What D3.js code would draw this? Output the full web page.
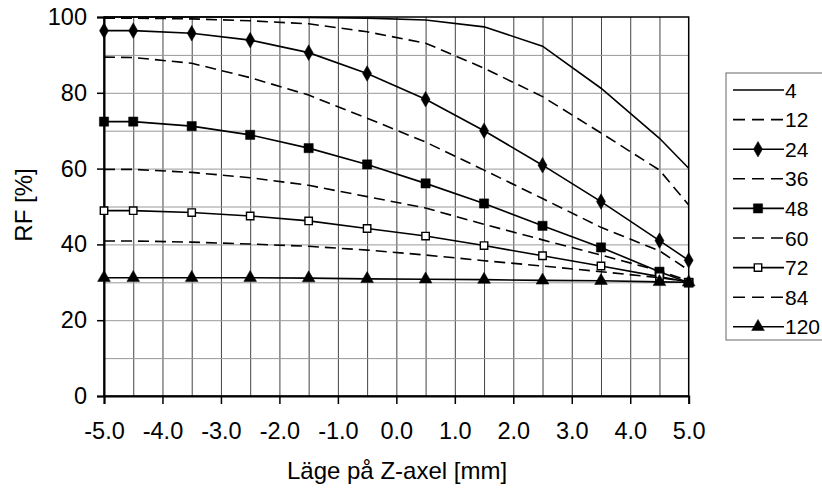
<!DOCTYPE html>
<html>
<head>
<meta charset="utf-8">
<script src="https://cdn.jsdelivr.net/npm/d3@7"></script>
<style>
  body { margin: 0; background: #fff; }
  svg { font-family: Arial, "Liberation Sans", sans-serif; }
  .tick text { font-size: 23.5px; fill: #000; }
</style>
</head>
<body>
<div class="chart-wrapper"></div>
<script>
// positions on the Z axis (mm)
const zPos = [-5, -4.5, -3.5, -2.5, -1.5, -0.5, 0.5, 1.5, 2.5, 3.5, 4.5, 5]

const seriesNames = ['4', '12', '24', '36', '48', '60', '72', '84', '120']

const rf4   = [100, 100, 100, 100, 99.9, 99.7, 99.2, 97.4, 92.3, 81.2, 68, 60.1]
const rf12  = [99.7, 99.7, 99.5, 99.0, 98.2, 96.1, 93.1, 86.5, 79.0, 69.4, 59.6, 50.4]
const rf24  = [96.4, 96.4, 95.7, 93.9, 90.6, 85.1, 78.3, 70.0, 60.9, 51.3, 41.0, 35.8]
const rf36  = [89.4, 89.3, 87.8, 84.0, 79.4, 73.3, 67.0, 59.6, 52.1, 44.5, 38.3, 33.2]
const rf48  = [72.4, 72.4, 71.2, 68.9, 65.4, 61.1, 56.1, 50.8, 44.9, 39.2, 32.8, 29.9]
const rf60  = [59.8, 59.8, 59.0, 57.6, 55.6, 52.6, 49.6, 45.3, 41.2, 37.2, 33.0, 30.4]
const rf72  = [48.9, 48.9, 48.4, 47.5, 46.2, 44.2, 42.2, 39.7, 37.0, 34.3, 31.5, 30.0]
const rf84  = [40.9, 40.9, 40.6, 40.1, 39.5, 38.5, 37.2, 35.7, 34.3, 32.8, 31.2, 30.2]
const rf120 = [31.2, 31.2, 31.2, 31.2, 31.1, 30.9, 30.8, 30.7, 30.5, 30.4, 30.1, 30.0]

const xTicks = [-5, -4, -3, -2, -1, 0, 1, 2, 3, 4, 5]
const yTicks = [0, 20, 40, 60, 80, 100]

const allValues = [rf4, rf12, rf24, rf36, rf48, rf60, rf72, rf84, rf120]

// style per series: dashed or solid, marker type
const styles = {
  '4':   { dash: null, marker: null },
  '12':  { dash: '11,6', marker: null },
  '24':  { dash: null, marker: 'diamond' },
  '36':  { dash: '11,6', marker: null },
  '48':  { dash: null, marker: 'square' },
  '60':  { dash: '11,6', marker: null },
  '72':  { dash: null, marker: 'open' },
  '84':  { dash: '11,6', marker: null },
  '120': { dash: null, marker: 'triangle' }
}

let width = 822, height = 489
let margin = { left: 104, right: 822 - 688.7, top: 17, bottom: 489 - 396 }

let svg = d3.select('.chart-wrapper').append('svg')
.attr('width', width)
.attr('height', height)

let x = d3.scaleLinear().domain([-5, 5]).range([margin.left, width - margin.right])
let y = d3.scaleLinear().domain([0, 100]).range([height - margin.bottom, margin.top])

// grid
svg.append('g')
.attr('transform', 'translate(0,' + y(0) + ')')
.call(d3.axisBottom(x).tickValues(d3.range(-4.5, 5, 0.5)).tickSize(-(y(0) - y(100))).tickFormat(''))
.call(g => g.select('.domain').remove())
.call(g => g.selectAll('line').attr('stroke', '#444').attr('stroke-width', 1))

svg.append('g')
.attr('transform', 'translate(' + x(-5) + ',0)')
.call(d3.axisLeft(y).tickValues(d3.range(10, 100, 10)).tickSize(-(x(5) - x(-5))).tickFormat(''))
.call(g => g.select('.domain').remove())
.call(g => g.selectAll('line').attr('stroke', '#999').attr('stroke-width', 1))

// frame
svg.append('rect')
.attr('x', x(-5)).attr('y', y(100))
.attr('width', x(5) - x(-5)).attr('height', y(0) - y(100))
.attr('fill', 'none').attr('stroke', '#000').attr('stroke-width', 1.5)

let fmtX = d => d3.format('.1f')(d).replace('\u2212', '-')

// axes
let xAxis = svg.append('g')
.attr('transform', 'translate(0,' + y(0) + ')')
.call(d3.axisBottom(x).tickValues(xTicks).tickSize(8).tickPadding(18).tickFormat(fmtX))
xAxis.select('.domain').attr('stroke-width', 2)
xAxis.selectAll('line').attr('stroke-width', 1.5)

let yAxis = svg.append('g')
.attr('transform', 'translate(' + x(-5) + ',0)')
.call(d3.axisLeft(y).tickValues(yTicks).tickSize(7).tickPadding(10).tickFormat(d3.format('d')))
yAxis.select('.domain').attr('stroke-width', 2)
yAxis.selectAll('line').attr('stroke-width', 1.5)

// axis titles
svg.append('text')
.attr('x', 397).attr('y', 479)
.attr('text-anchor', 'middle')
.style('font-size', '24px')
.text('Läge på Z-axel [mm]')

svg.append('text')
.attr('transform', 'translate(32,205) rotate(-90)')
.attr('text-anchor', 'middle')
.style('font-size', '24px')
.text('RF [%]')

let line = d3.line()
.x(d => x(d[0]))
.y(d => y(d[1]))

let symbols = {
  diamond: d3.symbol().type(d3.symbolDiamond).size(70),
  square: d3.symbol().type(d3.symbolSquare).size(85),
  open: d3.symbol().type(d3.symbolSquare).size(55),
  triangle: d3.symbol().type(d3.symbolTriangle).size(70)
}

function drawMarker(g, type, px, py) {
  if (!type) return
  g.append('path')
  .attr('d', symbols[type]())
  .attr('transform', 'translate(' + px + ',' + py + ')')
  .attr('fill', type === 'open' ? '#fff' : '#000')
  .attr('stroke', '#000')
  .attr('stroke-width', type === 'open' ? 1.4 : 0.5)
}

let plot = svg.append('g')

seriesNames.forEach((name, i) => {
  let pts = zPos.map((z, j) => [z, allValues[i][j]])
  let st = styles[name]
  plot.append('path')
  .datum(pts)
  .attr('d', line)
  .attr('fill', 'none')
  .attr('stroke', '#000')
  .attr('stroke-width', 1.6)
  .attr('stroke-dasharray', st.dash)

  pts.forEach(p => drawMarker(plot, st.marker, x(p[0]), y(p[1])))
})

// legend
let legend = svg.append('g')
legend.append('rect')
.attr('x', 726).attr('y', 73)
.attr('width', 110).attr('height', 267)
.attr('fill', '#fff').attr('stroke', '#666').attr('stroke-width', 1)

seriesNames.forEach((name, i) => {
  let ly = 90 + i * 29.6
  let st = styles[name]
  legend.append('line')
  .attr('x1', 733).attr('x2', 784)
  .attr('y1', ly).attr('y2', ly)
  .attr('stroke', '#000').attr('stroke-width', 1.6)
  .attr('stroke-dasharray', st.dash ? '12,7' : null)
  drawMarker(legend, st.marker, 758, ly)
  legend.append('text')
  .attr('x', 785).attr('y', ly)
  .attr('dy', '0.36em')
  .style('font-size', '21px')
  .text(name)
})
</script>
</body>
</html>
